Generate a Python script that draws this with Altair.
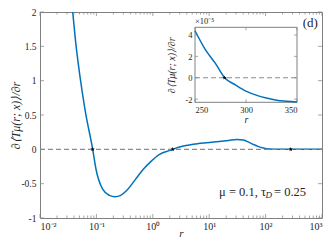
import json
import altair as alt
import pandas as pd

# ---------------- data ----------------
r_main = [0.038, 0.043, 0.0512, 0.0628, 0.0859, 0.0984, 0.129, 0.17, 0.214, 0.27,
          0.344, 0.5, 0.679, 0.891, 1.34, 2.02, 2.25, 3.48, 6.87, 13.6, 22.0,
          30.7, 40.3, 50.0, 60.6, 75.0, 91.0, 120.0, 160.0, 408.0, 1000.0]
v_main = [2.0, 1.55, 1.06, 0.58, 0.0, -0.29, -0.58, -0.67, -0.69, -0.67,
          -0.60, -0.43, -0.29, -0.19, -0.07, -0.015, 0.0, 0.048, 0.087, 0.11, 0.13,
          0.145, 0.135, 0.105, 0.072, 0.04, 0.02, 0.005, 0.001, 0.0, 0.0]

r_roots = [0.0859, 2.25, 279.0]

r_inset = [250, 260, 270, 279, 290, 300, 310, 320, 330, 340, 350]
v_inset = [4.4, 2.66, 1.34, 0.0, -0.69, -1.25, -1.63, -1.9, -2.1, -2.2, -2.28]  # x 1e-5
r_inset_root = [279.0]

x_major = [0.01, 0.1, 1, 10, 100, 1000]
x_tick_labels = ["10⁻²", "10⁻¹", "10⁰", "10¹", "10²", "10³"]
x_minor = [k * 10.0 ** d for d in range(-2, 3) for k in range(2, 10)]
y_major = [-1, -0.5, 0, 0.5, 1, 1.5, 2]

ix_ticks = [250, 300, 350]
iy_ticks = [-2, 0, 2, 4]

param_left = "μ = 0.1, τ"
param_sub = "D"
param_right = "= 0.25"

# ---------------- style ----------------
FONT = "Liberation Serif"
AX = "#808080"
TXT = "#262626"
BLUE = "#0072BD"
DASH = "#8c8c8c"
STAR = "M0,-1L0.2245,-0.309L0.951,-0.309L0.363,0.118L0.588,0.809L0,0.382L-0.588,0.809L-0.363,0.118L-0.951,-0.309L-0.2245,-0.309Z"

W, H = 282, 206
XD = [0.01, 1000]
YD = [-1, 2]
IXD = [250, 350]
IYD = [-2.3, 4.72]

XS = alt.Scale(type="log", domain=XD, nice=False)
YS = alt.Scale(domain=YD, nice=False, zero=False)
IXS = alt.Scale(domain=IXD, range=[155, 257], nice=False, zero=False)
IYS = alt.Scale(domain=IYD, range=[90.3, 15.3], nice=False, zero=False)

xlab_expr = json.dumps(x_tick_labels, ensure_ascii=False) + "[round(log(datum.value)/LN10)+2]"

XAX = alt.Axis(values=x_major, labelExpr=xlab_expr, ticks=False, domain=False, grid=False,
               labelFont=FONT, labelFontSize=10, labelColor=TXT, labelPadding=3,
               title="r", titleFont=FONT, titleFontStyle="italic", titleFontWeight="normal",
               titleFontSize=11, titleColor=TXT, titleY=15, titleBaseline="middle")
YAX = alt.Axis(values=y_major, labelExpr="'' + datum.value", ticks=False, domain=False, grid=False,
               labelFont=FONT, labelFontSize=9.5, labelColor=TXT, labelPadding=4,
               title="∂⟨Tμ(r; x)⟩/∂r", titleFont=FONT, titleFontStyle="italic",
               titleFontWeight="normal", titleFontSize=12, titleColor=TXT,
               titleX=-25, titleBaseline="middle")
IXAX = alt.Axis(orient="bottom", offset=-(H - 90.3), values=ix_ticks, ticks=False, domain=False,
                grid=False, labelFont=FONT, labelFontSize=8.5, labelColor=TXT, labelPadding=3,
                title="r", titleFont=FONT, titleFontStyle="italic", titleFontWeight="normal",
                titleFontSize=10, titleColor=TXT, titleY=17, titleBaseline="middle")
IYAX = alt.Axis(orient="left", offset=-155, values=iy_ticks, labelExpr="'' + datum.value",
                ticks=False, domain=False, grid=False, labelFont=FONT, labelFontSize=8.5,
                labelColor=TXT, labelPadding=3,
                title="∂⟨Tμ(r; x)⟩/∂r", titleFont=FONT, titleFontStyle="italic",
                titleFontWeight="normal", titleFontSize=10, titleColor=TXT,
                titleX=-24, titleBaseline="middle")

main_df = pd.DataFrame({"r": r_main, "v": v_main})
roots_df = pd.DataFrame({"r": r_roots, "v": [0.0] * len(r_roots)})
zero_df = pd.DataFrame({"r": XD, "v": [0.0, 0.0]})
xmaj_df = pd.DataFrame({"r": x_major})
xmin_df = pd.DataFrame({"r": x_minor})
ymaj_df = pd.DataFrame({"v": y_major})

def X(field="r"):
    return alt.X(f"{field}:Q", scale=XS, axis=XAX)

def Y(field="v"):
    return alt.Y(f"{field}:Q", scale=YS, axis=YAX)

curve = alt.Chart(main_df).mark_line(color=BLUE, strokeWidth=1.5, interpolate="monotone", clip=True).encode(x=X(), y=Y())
zero = alt.Chart(zero_df).mark_line(color=DASH, strokeWidth=1.2, strokeDash=[5, 3]).encode(x=X(), y=Y())
stars = alt.Chart(roots_df).mark_point(shape=STAR, filled=True, color="black", size=22, opacity=1).encode(x=X(), y=Y())

def xt(df, yval, off, size):
    return alt.Chart(df).mark_tick(orient="vertical", size=size, thickness=1, color=AX, yOffset=off).encode(
        x=X(), y=alt.datum(yval, scale=YS, axis=YAX))

def yt(xval, off, size):
    return alt.Chart(ymaj_df).mark_tick(orient="horizontal", size=size, thickness=1, color=AX, xOffset=off).encode(
        y=Y(), x=alt.datum(xval, scale=XS, axis=XAX))

ticks = [xt(xmaj_df, -1, -2, 4), xt(xmin_df, -1, -1.25, 2.5), xt(xmaj_df, 2, 2, 4), xt(xmin_df, 2, 1.25, 2.5),
         yt(0.01, 2, 4), yt(1000, -2, 4)]

lbl_d = alt.Chart(pd.DataFrame({"r": [620.0], "v": [1.84], "t": ["(d)"]})).mark_text(
    font=FONT, fontSize=13, color=TXT, align="center", baseline="middle").encode(x=X(), y=Y(), text="t:N")

anchor = pd.DataFrame({"r": [141.0], "v": [-0.62]})
p_right = alt.Chart(anchor.assign(t=[param_right])).mark_text(
    font=FONT, fontSize=12.5, color=TXT, align="left", baseline="middle").encode(x=X(), y=Y(), text="t:N")
p_sub = alt.Chart(anchor.assign(t=[param_sub])).mark_text(
    font=FONT, fontSize=9, fontStyle="italic", color=TXT, align="right", baseline="middle", dx=-2, dy=3).encode(x=X(), y=Y(), text="t:N")
p_left = alt.Chart(anchor.assign(t=[param_left])).mark_text(
    font=FONT, fontSize=12.5, color=TXT, align="right", baseline="middle", dx=-8).encode(x=X(), y=Y(), text="t:N")

main = alt.layer(curve, zero, stars, *ticks, lbl_d, p_right, p_sub, p_left)

# ---------------- inset ----------------
inset_df = pd.DataFrame({"r": r_inset, "v": v_inset})
box_df = pd.DataFrame({"r": [IXD[0]], "r2": [IXD[1]], "v": [IYD[0]], "v2": [IYD[1]]})
izero_df = pd.DataFrame({"r": IXD, "v": [0.0, 0.0]})
iroot_df = pd.DataFrame({"r": r_inset_root, "v": [0.0]})
ixt_df = pd.DataFrame({"r": ix_ticks})
iyt_df = pd.DataFrame({"v": iy_ticks})

def IX(field="r"):
    return alt.X(f"{field}:Q", scale=IXS, axis=IXAX)

def IY(field="v"):
    return alt.Y(f"{field}:Q", scale=IYS, axis=IYAX)

box = alt.Chart(box_df).mark_rect(fill="white", stroke=AX, strokeWidth=1).encode(x=IX(), x2="r2:Q", y=IY(), y2="v2:Q")
icurve = alt.Chart(inset_df).mark_line(color=BLUE, strokeWidth=1.5, interpolate="monotone").encode(x=IX(), y=IY())
izero = alt.Chart(izero_df).mark_line(color=DASH, strokeWidth=1.2, strokeDash=[5, 3]).encode(x=IX(), y=IY())
istar = alt.Chart(iroot_df).mark_point(shape=STAR, filled=True, color="black", size=22, opacity=1).encode(x=IX(), y=IY())

def ixt(yval, off):
    return alt.Chart(ixt_df).mark_tick(orient="vertical", size=3, thickness=1, color=AX, yOffset=off).encode(
        x=IX(), y=alt.datum(yval, scale=IYS, axis=IYAX))

def iyt(xval, off):
    return alt.Chart(iyt_df).mark_tick(orient="horizontal", size=3, thickness=1, color=AX, xOffset=off).encode(
        y=IY(), x=alt.datum(xval, scale=IXS, axis=IXAX))

imult = alt.Chart(pd.DataFrame({"r": [IXD[0]], "v": [IYD[1]], "t": ["×10⁻⁵"]})).mark_text(
    font=FONT, fontSize=8.5, color=TXT, align="left", baseline="bottom", dy=-1).encode(x=IX(), y=IY(), text="t:N")

inset = alt.layer(box, icurve, izero, istar, ixt(IYD[0], -1.5), ixt(IYD[1], 1.5), iyt(IXD[0], 1.5), iyt(IXD[1], -1.5), imult)

chart = alt.layer(main, inset).resolve_scale(x="independent", y="independent").properties(
    width=W, height=H,
    autosize=alt.AutoSizeParams(type="none"),
    padding={"left": 32, "top": 4, "right": 2, "bottom": 23},
).configure_view(stroke=AX, strokeWidth=1)

chart.save("out.html", embed_options={"renderer": "svg", "actions": False})
